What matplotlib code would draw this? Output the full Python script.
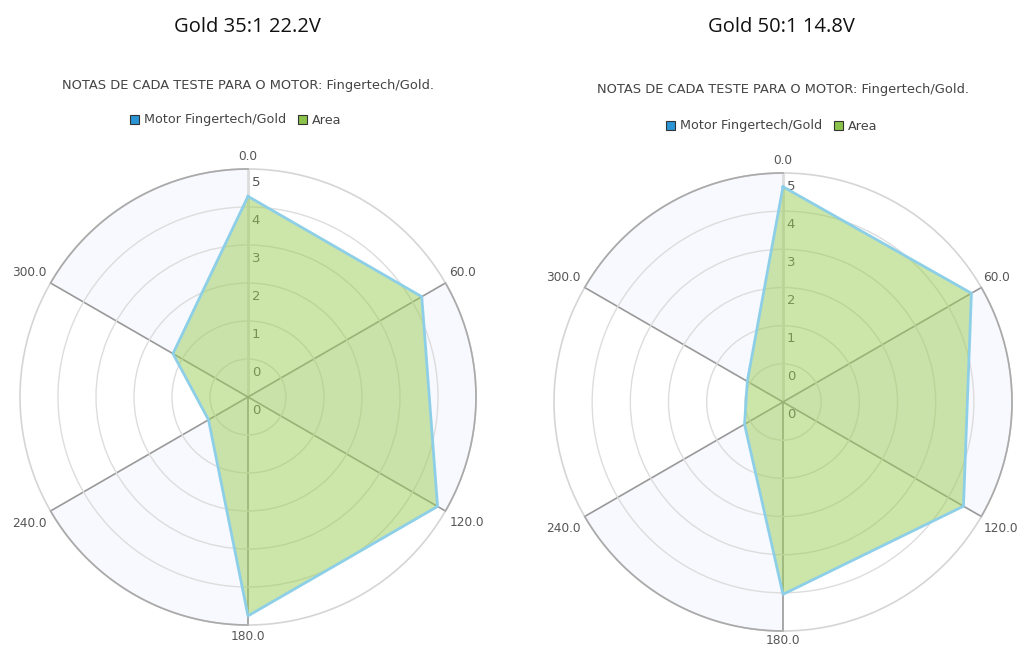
import numpy as np
import matplotlib
matplotlib.use("Agg")
import matplotlib.pyplot as plt
from matplotlib.patches import Patch
from matplotlib import transforms

# ---- data ----
angles_deg = [0, 60, 120, 180, 240, 300]
angle_labels = ["0.0", "60.0", "120.0", "180.0", "240.0", "300.0"]
titles = ["Gold 35:1 22.2V", "Gold 50:1 14.8V"]
subtitle = "NOTAS DE CADA TESTE PARA O MOTOR: Fingertech/Gold."
series_name = "Motor Fingertech/Gold"
area_name = "Area"
values_35 = [4.4, 4.4, 4.8, 4.8, 1.0, 1.9]
values_50 = [4.7, 4.75, 4.55, 4.2, 0.97, 0.9]
r_max = 5.0
r_ticks = [0, 5/6, 10/6, 15/6, 20/6, 25/6, 5.0]
r_tick_labels = [str(int(v)) for v in r_ticks]

W, H = 1019, 649
fig = plt.figure(figsize=(W/100, H/100), dpi=100)
plt.rcParams['font.family'] = ['DejaVu Sans']

# axes geometry in pixels: (center x, center y from top, radius)
geoms = [(248, 397, 228), (783, 402, 229)]
title_pos = [(247, 27), (781, 27)]
sub_pos = [(248, 85), (783, 90)]
leg_pos = [(236, 120), (772, 126)]

FILL = '#9acd55'
EDGE = '#8ecfe8'
LAV = '#f8f8ff'

for i, (vals, (cx, cy, R)) in enumerate(zip([values_35, values_50], geoms)):
    ax = fig.add_axes([(cx-R)/W, (H-cy-R)/H, 2*R/W, 2*R/H], projection='polar')
    ax.set_theta_zero_location('N')
    ax.set_theta_direction(-1)
    ax.set_ylim(0, r_max)
    ax.set_xticks([])
    ax.set_yticks(r_ticks[1:-1])
    ax.set_yticklabels([])
    ax.yaxis.grid(True, color='#dddddd', lw=1)
    ax.xaxis.grid(False)
    ax.spines['polar'].set_color('#d5d5d5')
    ax.spines['polar'].set_linewidth(1.2)

    th = np.deg2rad(angles_deg)
    # alternating lavender sectors
    lav_centers = np.deg2rad([330, 90, 210])
    ax.bar(lav_centers, [r_max]*3, width=np.deg2rad(60), color=LAV, edgecolor='none', zorder=0.5)
    for c in lav_centers:
        t = np.linspace(c - np.deg2rad(30), c + np.deg2rad(30), 60)
        ax.plot(t, [r_max]*len(t), color='#aaaaaa', lw=1.2, zorder=3, clip_on=False)

    # spokes
    for a in angles_deg:
        if a == 0:
            ax.plot([0, 0], [0, r_max], color='#dcdcdc', lw=2, zorder=1)
        else:
            ax.plot([np.deg2rad(a)]*2, [0, r_max], color='#999999', lw=1.2, zorder=1)

    # radial labels
    for rv, lab in zip(r_ticks, r_tick_labels):
        tr = transforms.offset_copy(ax.transData, fig=fig, x=8, y=-13, units='dots')
        ax.text(0, rv, lab, transform=tr, ha='center', va='center', fontsize=9.5,
                color='#555555', zorder=1.5)

    # polygon
    tt = np.concatenate([th, th[:1]])
    vv = np.concatenate([vals, vals[:1]])
    ax.fill(tt, vv, color=FILL, alpha=0.5, zorder=2, lw=0)
    ax.plot(tt, vv, color=EDGE, lw=2, zorder=2.5)

    # angle labels
    offs = {0: (0, 12, 'center', 'center'), 60: (4, 10, 'left', 'center'),
            120: (4, -12, 'left', 'center'), 180: (0, -12, 'center', 'center'),
            240: (-4, -12, 'right', 'center'), 300: (-4, 10, 'right', 'center')}
    for a, lab in zip(angles_deg, angle_labels):
        dx, dy, ha, va = offs[a]
        if a == 180 and i == 1:
            dy = -10
        if i == 1 and a in (60, 120):
            dx = 2
        tr = transforms.offset_copy(ax.transData, fig=fig, x=dx, y=dy, units='dots')
        ax.text(np.deg2rad(a), r_max, lab, transform=tr, ha=ha, va=va, fontsize=8.7,
                color='#555555', clip_on=False)

    tx, ty = title_pos[i]
    fig.text(tx/W, 1 - ty/H, titles[i], ha='center', va='center', fontsize=14.5,
             family='Open Sans', color='#111111')
    sx, sy = sub_pos[i]
    fig.text(sx/W, 1 - sy/H, subtitle, ha='center', va='center', fontsize=9.4,
             color='#444444')
    lx, ly = leg_pos[i]
    handles = [Patch(facecolor='#2b95d6', edgecolor='#333333', lw=0.8, label=series_name),
               Patch(facecolor='#8bc34a', edgecolor='#333333', lw=0.8, label=area_name)]
    leg = fig.legend(handles=handles, loc='center', bbox_to_anchor=(lx/W, 1 - ly/H),
                     ncol=2, frameon=False, fontsize=9.2, handlelength=0.7, handleheight=0.7,
                     handletextpad=0.4, columnspacing=0.9, labelcolor='#444444')

fig.savefig('out.png', dpi=100)
